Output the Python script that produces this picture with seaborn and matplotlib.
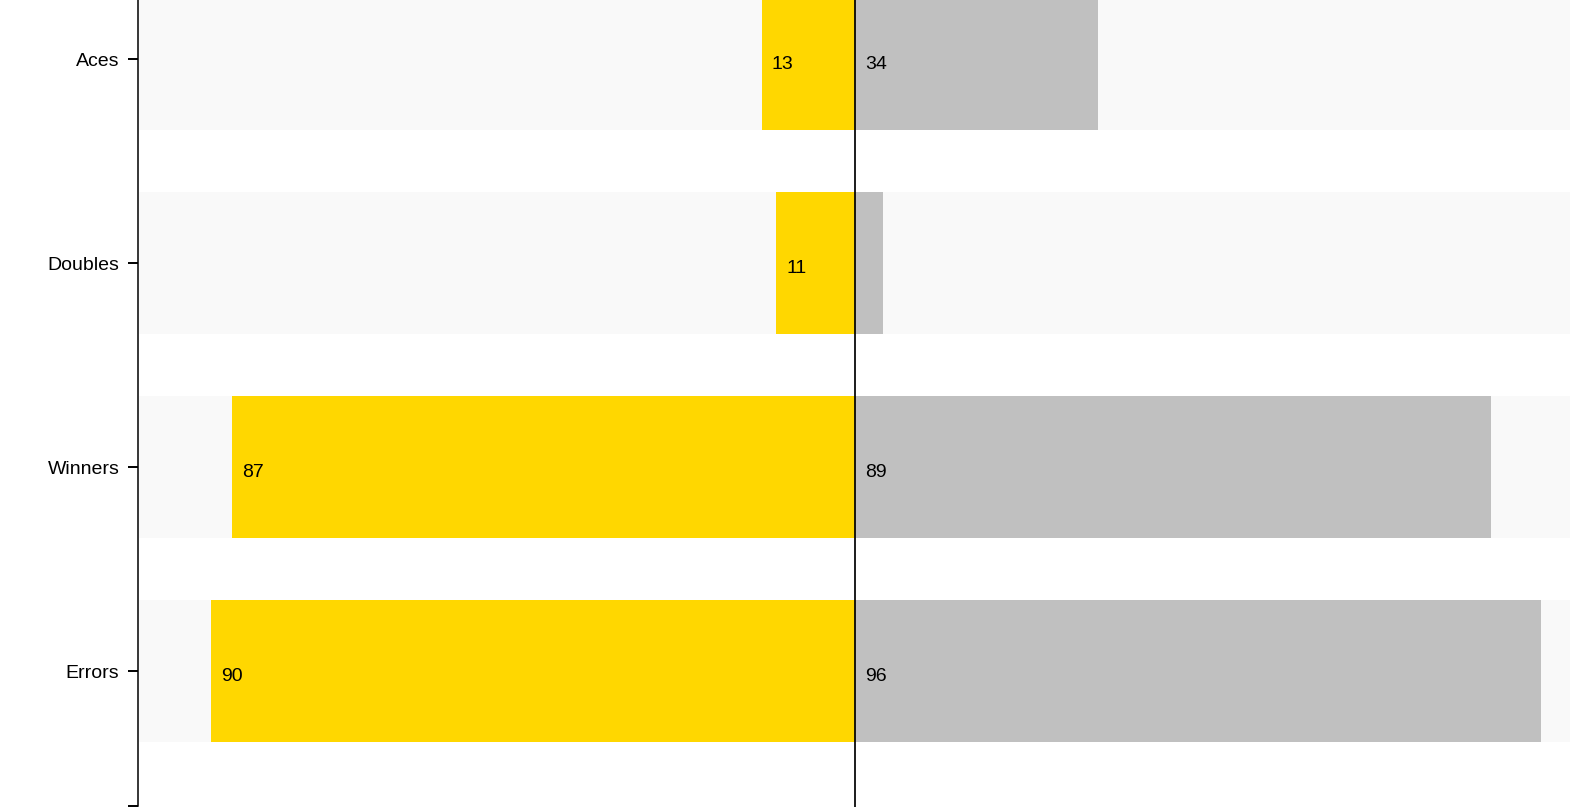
import matplotlib
matplotlib.use("Agg")
import matplotlib.pyplot as plt
import seaborn as sns
import pandas as pd

categories = ["Aces", "Doubles", "Winners", "Errors"]
left_values = [13, 11, 87, 90]
right_values = [34, 4, 89, 96]
domain_max = 100

YELLOW = "#FFD700"
GRAY = "#C0C0C0"
BAND = "#F9F9F9"

sns.set_theme(style="white")
plt.rcParams["font.family"] = ["Liberation Sans", "DejaVu Sans"]

W, H, DPI = 1576, 807, 100
fig = plt.figure(figsize=(W / DPI, H / DPI), dpi=DPI)
ax_left = 137.5 / W
ax_right = 1570 / W
ax_bottom = 1.4 / H
ax = fig.add_axes([ax_left, ax_bottom, ax_right - ax_left, 1.0 - ax_bottom])

df = pd.DataFrame({
    "category": categories,
    "left": [-v for v in left_values],
    "right": right_values,
    "band_pos": [domain_max] * len(categories),
    "band_neg": [-domain_max] * len(categories),
})

bw = 0.696
for col, color in [("band_pos", BAND), ("band_neg", BAND), ("left", YELLOW), ("right", GRAY)]:
    sns.barplot(data=df, x=col, y="category", orient="h", color=color,
                width=bw, linewidth=0, saturation=1, ax=ax, errorbar=None)

px_per_unit = (1570 - 854) / domain_max
ax.set_xlim(-domain_max - 2.0 / px_per_unit, domain_max)
y_top = -59 / 204
y_bot = (805.6 - 59) / 204
ax.set_ylim(y_bot, y_top)

ax.axvline(0, ymin=-0.01, ymax=1, color="black", linewidth=1.25, clip_on=False, zorder=5)

# value labels
for i, (lv, rv) in enumerate(zip(left_values, right_values)):
    for start, val in [(-lv, lv), (0, rv)]:
        if val >= 10:
            ax.annotate(str(val), xy=(start, i), xytext=(7.2, -7.2),
                        textcoords="offset points", ha="left", va="baseline",
                        fontsize=14, color="black", zorder=6)

for s in ["top", "right", "bottom"]:
    ax.spines[s].set_visible(False)
ax.spines["left"].set_color("black")
ax.spines["left"].set_linewidth(1.1)

ax.set_yticks(list(range(len(categories))) + [y_bot])
ax.set_yticklabels(categories + [""])
ax.tick_params(axis="y", which="major", left=True, length=7.5, width=1.4,
               color="black", pad=5.5, labelsize=14, labelcolor="black")
ax.set_xticks([])
ax.set_xlabel("")
ax.set_ylabel("")
ax.set_facecolor("white")
fig.patch.set_facecolor("white")

fig.savefig("out.png", dpi=DPI, facecolor="white")
